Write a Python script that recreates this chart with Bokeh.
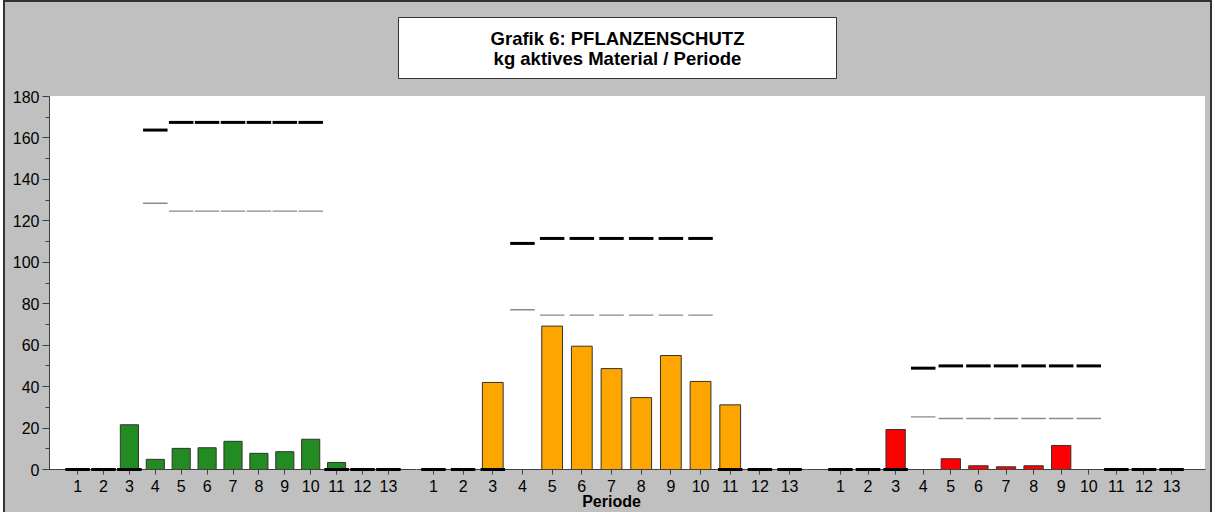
from bokeh.plotting import figure
from bokeh.models import FactorRange, Range1d, SingleIntervalTicker
from bokeh.layouts import row, column
from bokeh.embed import file_html
from bokeh.resources import INLINE
from bokeh.core.properties import value

# ---------------- data ----------------
periods = ["1", "2", "3", "4", "5", "6", "7", "8", "9", "10", "11", "12", "13"]

title_line1 = "Grafik 6: PFLANZENSCHUTZ"
title_line2 = "kg aktives Material / Periode"
x_label = "Periode"

# bar values (kg active material per period)
bars_green = [0, 0, 21.6, 4.9, 10.2, 10.5, 13.6, 7.8, 8.6, 14.6, 3.4, 0, 0]
bars_orange = [0, 0, 42.0, 0, 69.2, 59.5, 48.7, 34.7, 55.0, 42.5, 31.2, 0, 0]
bars_red = [0, 0, 19.3, 0, 5.2, 1.8, 1.3, 1.8, 11.6, 0, 0, 0, 0]

# thick black markers
upper_green = [0, 0, 0, 163.8, 167.5, 167.5, 167.5, 167.5, 167.5, 167.5, 0, 0, 0]
upper_orange = [0, 0, 0, 109.1, 111.5, 111.5, 111.5, 111.5, 111.5, 111.5, 0, 0, 0]
upper_red = [0, 0, 0, 48.9, 50.0, 50.0, 50.0, 50.0, 50.0, 50.0, 0, 0, 0]

# thin grey markers
lower_green = [None, None, None, 128.5, 124.7, 124.7, 124.7, 124.7, 124.7, 124.7, None, None, None]
lower_orange = [None, None, None, 77.1, 74.5, 74.5, 74.5, 74.5, 74.5, 74.5, None, None, None]
lower_red = [None, None, None, 25.4, 24.6, 24.6, 24.6, 24.6, 24.6, 24.6, None, None, None]

colors = ["#228b22", "#ffa500", "#ff0000"]

# ---------------- styling ----------------
GRAY = "#c0c0c0"
FONT = "Liberation Sans"
AXC = "#404040"
FH = 373
TOTAL_W = 1209
LEFT = 46
TOP = 8
FRAMES = [367, 390, 399]
TH = 88


def make_panel(bars, upper, lower, color, frame_w, pad, left_axis, label, bl, br):
    p = figure(
        x_range=FactorRange(factors=periods, range_padding=pad, range_padding_units="absolute"),
        y_range=Range1d(0, 180),
        frame_width=frame_w, frame_height=FH,
        output_backend="svg", toolbar_location=None,
        y_axis_location="left" if left_axis else None,
        min_border_left=bl, min_border_right=br, min_border_top=TOP, min_border_bottom=0,
    )
    p.background_fill_color = None
    p.border_fill_color = None
    p.outline_line_color = None
    p.grid.visible = False

    bx = [periods[i] for i in range(len(periods)) if bars[i] > 0]
    bt = [bars[i] for i in range(len(periods)) if bars[i] > 0]
    p.vbar(x=bx, top=bt, bottom=0, width=0.7, fill_color=color,
           line_color="#333333", line_width=1)

    lx = [periods[i] for i in range(len(periods)) if lower[i] is not None]
    ly = [lower[i] for i in range(len(periods)) if lower[i] is not None]
    p.rect(x=lx, y=ly, width=24.5, width_units="screen", height=1.4, height_units="screen",
           fill_color="#8a8a8a", line_color=None)

    p.rect(x=periods, y=upper, width=24.5, width_units="screen", height=3, height_units="screen",
           fill_color="black", line_color=None, level="overlay")

    ax = p.xaxis[0]
    ax.axis_line_color = AXC
    ax.major_tick_line_color = AXC
    ax.major_tick_out = 5
    ax.major_tick_in = 0
    ax.minor_tick_line_color = None
    ax.major_label_text_font = FONT
    ax.major_label_text_font_size = "16px"
    ax.major_label_text_color = "black"
    ax.major_label_standoff = 5
    if label:
        ax.axis_label = label
        ax.axis_label_text_font = FONT
        ax.axis_label_text_font_size = "16px"
        ax.axis_label_text_font_style = "bold"
        ax.axis_label_text_color = "black"
        ax.axis_label_standoff = -2

    if left_axis:
        ya = p.yaxis[0]
        ya.ticker = SingleIntervalTicker(interval=20, num_minor_ticks=2)
        ya.axis_line_color = AXC
        ya.major_tick_line_color = AXC
        ya.minor_tick_line_color = AXC
        ya.major_tick_out = 7
        ya.major_tick_in = 0
        ya.minor_tick_out = 4
        ya.minor_tick_in = 0
        ya.major_label_text_font = FONT
        ya.major_label_text_font_size = "16px"
        ya.major_label_text_color = "black"
        ya.major_label_standoff = 3
    return p


right_border = TOTAL_W - LEFT - sum(FRAMES)
f1 = make_panel(bars_green, upper_green, lower_green, colors[0], FRAMES[0], 0.585, True, None, LEFT, 0)
f2 = make_panel(bars_orange, upper_orange, lower_orange, colors[1], FRAMES[1], 0.07, False, x_label, 0, 0)
f3 = make_panel(bars_red, upper_red, lower_red, colors[2], FRAMES[2], 0.73, False, None, 0, right_border)

t = figure(width=TOTAL_W, height=TH, x_range=Range1d(0, TOTAL_W), y_range=Range1d(TH, 0),
           output_backend="svg", toolbar_location=None,
           x_axis_location=None, y_axis_location=None, min_border=0)
t.grid.visible = False
t.background_fill_color = None
t.border_fill_color = None
t.outline_line_color = None
t.rect(x=[614], y=[47.5], width=[438], height=[61], fill_color="white",
       line_color="#333333", line_width=1)
t.text(x=[614, 614], y=[38, 58], text=[title_line1, title_line2],
       text_align="center", text_baseline="middle", text_font=value(FONT),
       text_font_style="bold", text_font_size="18.5px", text_color="black")

panels = row(f1, f2, f3, spacing=0)
bg = ("linear-gradient(#ffffff, #ffffff) %dpx %dpx / %dpx %dpx no-repeat, %s"
      % (LEFT, TH + TOP, sum(FRAMES), FH, GRAY))
layout = column(t, panels, spacing=0,
                styles={"margin-left": "3px", "background": bg,
                        "box-shadow": "inset 2px 2px 0 0 #333333, inset -2px 0 0 0 #333333"})

open("out.html", "w").write(file_html(layout, INLINE))
